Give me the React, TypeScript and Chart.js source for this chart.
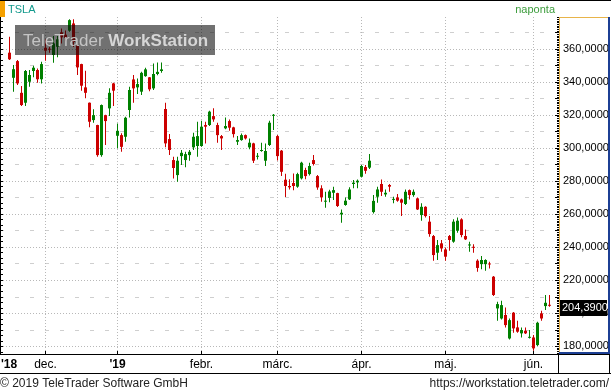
import React, { useEffect, useRef } from 'react';
import { Chart, registerables } from 'chart.js';

Chart.register(...registerables);

const symbol = 'TSLA';
const periodLabel = 'naponta';
const firstYearLabel = "'18";
const copyright = '© 2019 TeleTrader Software GmbH';
const siteUrl = 'https://workstation.teletrader.com/';

const dates = [
  '2018-11-19','2018-11-20','2018-11-21','2018-11-23','2018-11-26','2018-11-27','2018-11-28','2018-11-29','2018-11-30',
  '2018-12-03','2018-12-04','2018-12-06','2018-12-10','2018-12-11','2018-12-12','2018-12-13','2018-12-14','2018-12-17','2018-12-18','2018-12-19','2018-12-20','2018-12-21','2018-12-24','2018-12-26','2018-12-27','2018-12-28','2018-12-31',
  '2019-01-02','2019-01-03','2019-01-04','2019-01-07','2019-01-08','2019-01-09','2019-01-10','2019-01-11','2019-01-14','2019-01-15','2019-01-16','2019-01-17','2019-01-18','2019-01-22','2019-01-23','2019-01-24','2019-01-25','2019-01-28','2019-01-29','2019-01-30','2019-01-31',
  '2019-02-01','2019-02-04','2019-02-05','2019-02-06','2019-02-07','2019-02-08','2019-02-11','2019-02-12','2019-02-13','2019-02-14','2019-02-15','2019-02-19','2019-02-20','2019-02-21','2019-02-22','2019-02-25','2019-02-26','2019-02-27','2019-02-28',
  '2019-03-01','2019-03-04','2019-03-05','2019-03-06','2019-03-07','2019-03-08','2019-03-11','2019-03-12','2019-03-13','2019-03-14','2019-03-15','2019-03-18','2019-03-19','2019-03-20','2019-03-21','2019-03-22','2019-03-25','2019-03-26','2019-03-27','2019-03-28','2019-03-29',
  '2019-04-01','2019-04-02','2019-04-03','2019-04-04','2019-04-05','2019-04-08','2019-04-09','2019-04-10','2019-04-11','2019-04-12','2019-04-15','2019-04-16','2019-04-17','2019-04-18','2019-04-22','2019-04-23','2019-04-24','2019-04-25','2019-04-26','2019-04-29','2019-04-30',
  '2019-05-01','2019-05-02','2019-05-03','2019-05-06','2019-05-07','2019-05-08','2019-05-09','2019-05-10','2019-05-13','2019-05-14','2019-05-15','2019-05-16','2019-05-17','2019-05-20','2019-05-21','2019-05-22','2019-05-23','2019-05-24','2019-05-28','2019-05-29','2019-05-30','2019-05-31',
  '2019-06-03','2019-06-04','2019-06-05','2019-06-06','2019-06-07',
];

const opens = [
  357.6,342.4,352.5,333.3,327.3,340.0,346.5,347.1,341.5,
  360.6,359.8,356.2,361.2,369.9,368.5,370.9,375.3,362.2,350.7,336.6,327.3,316.8,313.8,295.6,319.8,323.9,339.0,
  307.3,307.7,306.7,322.9,341.4,336.6,334.0,343.4,342.7,336.0,344.7,346.5,323.5,305.3,292.6,283.5,295.0,292.6,295.6,300.3,301.1,
  301.1,313.8,313.8,319.2,313.8,307.1,311.8,316.2,312.4,303.7,304.7,307.7,300.3,302.7,294.6,298.1,292.2,301.7,319.4,
  307.1,298.3,280.7,276.9,278.7,276.5,281.5,286.6,284.1,292.6,282.9,275.5,267.4,269.7,272.8,272.6,259.7,265.4,268.8,278.1,279.1,
  282.5,288.4,288.0,261.1,270.4,278.1,271.8,277.5,268.5,270.0,268.8,266.0,274.4,271.4,269.4,259.3,264.3,255.3,246.6,236.5,242.2,
  238.5,246.6,243.2,249.8,256.7,246.6,240.9,239.9,231.7,229.6,229.6,229.8,222.0,202.8,196.7,198.8,184.6,200.2,191.3,187.7,189.3,185.0,
  185.2,180.6,199.8,204.2,204.9,
];

const highs = [
  367.2,350.1,353.1,337.4,347.1,347.1,349.7,348.1,352.1,
  365.7,361.0,367.7,367.7,372.3,371.0,377.9,377.8,362.5,350.9,346.7,327.5,323.3,314.0,326.2,320.0,336.0,339.4,
  314.8,308.8,318.8,337.0,344.1,342.0,346.0,348.5,342.9,351.1,351.7,351.7,327.3,308.3,294.6,294.6,298.7,297.6,298.7,309.1,315.8,
  316.4,315.8,322.5,323.9,315.2,307.7,318.4,317.2,312.8,307.1,308.7,308.1,305.7,303.1,296.8,303.1,302.7,316.4,320.5,
  307.7,298.7,284.3,281.0,284.5,284.9,291.6,288.0,291.0,295.6,283.5,277.3,273.4,274.6,276.5,272.8,262.7,270.0,276.1,280.5,280.9,
  289.6,289.6,296.2,271.4,276.5,280.9,274.8,278.1,270.4,272.0,269.4,274.8,274.8,274.8,270.0,266.4,264.7,258.7,247.2,244.2,244.2,
  239.7,247.2,256.7,257.9,257.3,250.6,243.2,241.7,232.5,234.5,232.5,231.1,222.4,206.8,207.4,203.4,196.7,200.6,195.3,191.3,191.3,189.7,
  186.7,194.7,201.4,210.9,210.9,
];

const lows = [
  353.1,334.0,338.0,325.3,325.3,337.0,342.7,339.4,339.0,
  352.7,357.5,351.5,354.8,363.2,364.5,370.3,361.0,344.1,334.6,330.0,312.4,315.2,294.6,294.6,301.7,319.2,325.3,
  299.7,297.6,303.7,318.4,327.3,332.6,332.0,343.0,334.3,335.0,344.0,345.5,300.3,295.6,281.5,279.5,289.6,288.2,292.2,298.7,294.6,
  300.7,302.7,313.2,315.8,303.1,298.7,311.2,310.4,306.3,301.7,304.3,305.1,299.1,290.8,293.0,297.6,289.0,301.1,310.8,
  292.4,282.9,270.2,274.8,274.4,275.9,280.9,281.0,283.2,289.3,274.6,267.4,263.7,267.1,268.4,264.2,254.7,265.0,268.4,275.5,275.5,
  282.1,284.3,287.2,260.3,266.8,270.8,270.4,273.4,266.4,267.4,258.7,265.4,268.8,270.4,262.3,255.9,257.9,246.2,231.7,232.1,237.1,
  231.7,237.7,242.6,248.6,245.8,244.2,237.1,236.5,225.0,226.5,225.6,227.0,210.3,195.3,196.1,191.3,184.0,188.1,188.1,185.2,187.3,184.6,
  177.2,180.0,195.3,201.8,203.8,
];

const closes = [
  353.6,347.6,339.0,325.9,346.5,344.1,348.5,341.5,350.7,
  358.8,359.4,363.2,365.7,366.9,366.6,377.3,364.0,348.7,337.6,333.3,315.8,319.8,295.6,325.9,316.2,333.3,334.6,
  310.3,300.6,318.2,335.0,336.0,338.6,345.4,347.5,335.4,344.7,346.0,347.5,302.7,298.7,287.8,292.2,297.0,296.2,297.6,306.7,307.1,
  312.8,312.8,321.9,317.2,307.7,305.7,313.2,312.2,308.3,304.7,307.7,305.7,303.1,292.2,295.2,298.7,298.1,315.2,320.0,
  295.0,285.5,276.9,276.1,276.9,284.1,291.0,282.9,289.0,290.2,276.0,270.0,267.8,273.6,274.4,264.8,260.7,268.0,274.8,278.9,280.1,
  289.0,286.1,292.2,267.9,274.8,273.4,272.8,276.5,268.9,268.0,266.8,273.4,271.4,273.4,262.7,264.3,258.7,247.8,235.1,241.1,239.1,
  234.1,244.2,255.3,255.9,247.2,244.6,241.3,239.5,227.3,232.1,232.1,229.4,210.9,205.4,204.8,192.7,195.7,190.7,188.7,189.7,187.7,185.4,
  178.6,194.1,196.7,206.2,204.39,
];

const monthNames: Record<string, string> = {
  '2018-12': 'dec.',
  '2019-01': "'19",
  '2019-02': 'febr.',
  '2019-03': 'márc.',
  '2019-04': 'ápr.',
  '2019-05': 'máj.',
  '2019-06': 'jún.',
};

const RED = '#cc0000';
const GREEN = '#008000';
const FONT = '"Liberation Sans", Arial, sans-serif';

function fmt(v: number) {
  return v.toFixed(4).replace('.', ',');
}

export default function App() {
  const ref = useRef<HTMLCanvasElement>(null);

  useEffect(() => {
    const canvas = ref.current;
    if (!canvas) return;
    const idx = dates.map((_, i) => i);
    const colors = idx.map((i) => (closes[i] >= opens[i] ? GREEN : RED));
    const monthStarts: { i: number; label: string }[] = [];
    dates.forEach((d, i) => {
      const m = d.slice(0, 7);
      if (i > 0 && m !== dates[i - 1].slice(0, 7) && monthNames[m]) {
        monthStarts.push({ i, label: monthNames[m] });
      }
    });

    const decor = {
      id: 'decor',
      beforeDraw(chart: any) {
        const ctx = chart.ctx;
        ctx.save();
        ctx.fillStyle = '#ffffff';
        ctx.fillRect(0, 0, chart.width, chart.height);
        ctx.restore();
      },
      beforeDatasetsDraw(chart: any) {
        const ctx = chart.ctx;
        const ca = chart.chartArea;
        const xs = chart.scales.x;
        const ys = chart.scales.y;
        ctx.save();
        ctx.lineWidth = 1;
        ctx.strokeStyle = '#cfcfcf';
        ctx.setLineDash([4, 11]);
        ys.ticks.forEach((t: any) => {
          const v = t.value + 10;
          if (v < ys.max) {
            const y = Math.round(ys.getPixelForValue(v)) + 0.5;
            ctx.beginPath();
            ctx.moveTo(ca.left, y);
            ctx.lineTo(ca.right, y);
            ctx.stroke();
          }
        });
        ctx.strokeStyle = '#b8b8b8';
        ctx.setLineDash([1, 2]);
        ys.ticks.forEach((t: any) => {
          const y = Math.round(ys.getPixelForValue(t.value)) + 0.5;
          ctx.beginPath();
          ctx.moveTo(ca.left, y);
          ctx.lineTo(ca.right, y);
          ctx.stroke();
        });
        monthStarts.forEach((m) => {
          const x = Math.floor(xs.getPixelForValue(m.i)) + 0.5;
          ctx.beginPath();
          ctx.moveTo(x, ca.top);
          ctx.lineTo(x, ca.bottom);
          ctx.stroke();
        });
        ctx.restore();
      },
      afterDatasetsDraw(chart: any) {
        const ctx = chart.ctx;
        const ca = chart.chartArea;
        const xs = chart.scales.x;
        const ys = chart.scales.y;
        ctx.save();
        ctx.fillStyle = 'rgba(10,10,10,0.58)';
        ctx.fillRect(15, 25, 200, 30);
        ctx.textBaseline = 'alphabetic';
        ctx.textAlign = 'left';
        ctx.font = `17px ${FONT}`;
        ctx.fillStyle = '#c4c4c4';
        ctx.fillText('TeleTrader ', 23, 46);
        const w = ctx.measureText('TeleTrader ').width;
        ctx.font = `bold 17px ${FONT}`;
        ctx.fillStyle = '#d6d6d6';
        ctx.fillText('WorkStation', 23 + w, 46);

        ctx.fillStyle = '#000';
        ctx.fillRect(0, 0, chart.width, 1);
        ctx.fillStyle = '#f5a000';
        ctx.fillRect(0, 1, 5, 16);
        ctx.font = `11px ${FONT}`;
        ctx.fillStyle = '#12998c';
        ctx.fillText(symbol, 8, 13);
        ctx.textAlign = 'right';
        ctx.fillStyle = '#3c9c3c';
        ctx.fillText(periodLabel, 555, 13);

        ctx.fillStyle = '#000';
        ctx.fillRect(0, ca.top, 1, ca.bottom - ca.top);
        for (let v = 180 - 20; v <= ys.max; v += 20 / 6) {
          if (v < ys.min) continue;
          const y = Math.round(ys.getPixelForValue(v));
          ctx.fillRect(0, y, 3, 1);
        }

        for (let v = Math.ceil(ys.min); v <= ys.max; v += 1) {
          const y = Math.round(ys.getPixelForValue(v));
          const len = v % 10 === 0 ? 4 : 2;
          ctx.fillRect(559 - len, y, len, 1);
        }
        ctx.fillStyle = '#e8b44a';
        ctx.fillRect(559, ca.top, 1, ca.bottom - ca.top);
        ctx.fillRect(559, ca.top, 51, 1);
        ctx.fillStyle = '#1c3f94';
        ctx.fillRect(608, ca.top, 2, ca.bottom - ca.top);
        ctx.fillRect(559, ca.bottom - 2, 51, 2);

        ctx.fillStyle = '#000';
        ctx.fillRect(0, ca.bottom, 610, 1);
        ctx.fillRect(0, 373, chart.width, 1);
        ctx.fillRect(558, ca.bottom, 1, 373 - ca.bottom);
        ctx.fillRect(609, ca.bottom, 1, 373 - ca.bottom);
        monthStarts.forEach((m) => {
          const x = Math.floor(xs.getPixelForValue(m.i));
          ctx.fillRect(x, ca.bottom - 3, 1, 3);
        });
        ctx.textAlign = 'left';
        ctx.font = `bold 12px ${FONT}`;
        ctx.fillText(firstYearLabel, 1, 368);
        ctx.textAlign = 'center';
        monthStarts.forEach((m) => {
          const x = Math.floor(xs.getPixelForValue(m.i)) + 0.5;
          ctx.font = m.label.startsWith("'") ? `bold 12px ${FONT}` : `12px ${FONT}`;
          ctx.fillText(m.label, x, 368);
        });

        ctx.font = `12px ${FONT}`;
        ctx.fillStyle = '#222';
        ctx.textAlign = 'left';
        ctx.fillText(copyright, 0, 387);
        ctx.textAlign = 'right';
        ctx.fillText(siteUrl, 609, 387);

        const last = closes[closes.length - 1];
        const py = Math.round(ys.getPixelForValue(last));
        ctx.fillStyle = '#000';
        ctx.fillRect(560, py - 6, 47, 16);
        ctx.fillStyle = '#fff';
        ctx.font = `11px ${FONT}`;
        ctx.textAlign = 'left';
        ctx.textBaseline = 'middle';
        ctx.fillText(fmt(last), 562, py + 2);
        ctx.restore();
      },
    };

    const chart = new Chart(canvas, {
      type: 'bar',
      data: {
        datasets: [
          {
            label: 'range',
            data: idx.map((i) => ({ x: i, y: [lows[i], highs[i]] })) as any,
            backgroundColor: colors,
            barThickness: 1,
            grouped: false,
            inflateAmount: 0,
            order: 2,
          } as any,
          {
            label: 'body',
            data: idx.map((i) => ({ x: i, y: [opens[i], closes[i]] })) as any,
            backgroundColor: colors,
            barThickness: 3,
            grouped: false,
            minBarLength: 1,
            inflateAmount: 0,
            order: 1,
          } as any,
        ],
      },
      options: {
        animation: false,
        responsive: false,
        devicePixelRatio: 1,
        layout: { padding: { left: 0, right: 0, top: 17, bottom: 38 } },
        plugins: { legend: { display: false }, tooltip: { enabled: false } },
        scales: {
          x: {
            type: 'linear',
            display: false,
            offset: false,
            bounds: 'data',
            min: -2.375,
            max: 137.125,
            grid: { offset: false },
          },
          y: {
            position: 'right',
            min: 175.2,
            max: 379.2,
            grid: { display: false, drawTicks: false },
            border: { display: false },
            ticks: {
              stepSize: 20,
              includeBounds: false,
              callback: (v: any) => fmt(Number(v)),
              color: '#000',
              font: { family: FONT, size: 11 },
              padding: 5,
            },
            afterFit(scale: any) {
              scale.width = 53;
            },
          },
        },
      } as any,
      plugins: [decor],
    });
    return () => chart.destroy();
  }, []);

  return (
    <div style={{ position: 'fixed', left: 0, top: 0, width: 611, height: 392, background: '#fff' }}>
      <canvas ref={ref} width={611} height={392} style={{ display: 'block', width: 611, height: 392 }} />
    </div>
  );
}
